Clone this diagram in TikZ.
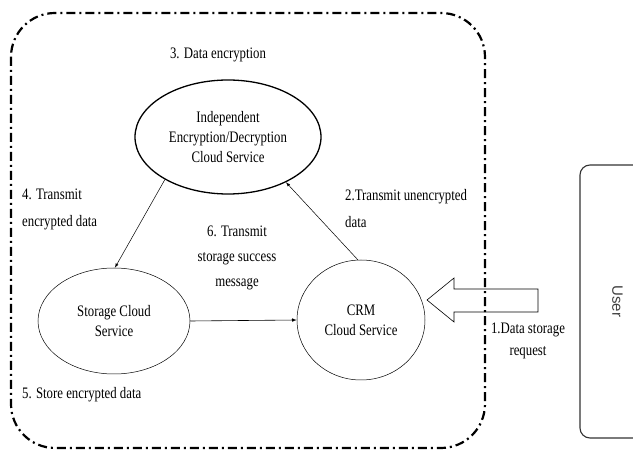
\documentclass[tikz,border=0pt]{standalone}
\usepackage{fontspec}
\setmainfont{Liberation Serif}[FakeStretch=0.8]
\newfontfamily\usrfont{Liberation Sans}
\usepackage{tikz}
\usetikzlibrary{shapes.geometric}

\begin{document}
\begin{tikzpicture}[x=1pt, y=-1pt,
  svc/.style={ellipse, draw, inner sep=0pt, align=center, font=\fontsize{16}{20}\selectfont},
  lbl/.style={align=left, anchor=west, inner sep=0pt, font=\fontsize{16}{27}\selectfont},
  frame/.style={line width=2.2pt, dash pattern=on 9pt off 4pt on 2pt off 4pt, rounded corners=44pt}]

\useasboundingbox (0,0) rectangle (633,454);

%% trusted zone
\draw[frame] (11,13) rectangle (485,448);

%% services
\path
(228,137) node[svc, line width=1.3pt, minimum width=186pt, minimum height=114pt](enc) {Independent\\Encryption/Decryption\\Cloud Service}
(114,321) node[svc, line width=0.5pt, minimum width=152pt, minimum height=106pt](store) {Storage Cloud\\Service}
(361,320) node[svc, line width=0.5pt, minimum width=128pt, minimum height=120pt](crm) {CRM\\Cloud Service};

%% user
\node[draw, gray!40!black, line width=1.1pt, rounded corners=10pt, rotate=-90, minimum width=273pt, minimum height=75pt,
  font=\usrfont\fontsize{15}{17}\selectfont, text=gray!50!black] (user) at (617.5,301.5) {User};

%% block arrow from user to crm
\draw[line width=0.6pt] (427,300) -- (454,278) -- (454,289) -- (538,289) -- (538,312) -- (454,312) -- (454,322) -- cycle;

%% flows
\draw[-latex, line width=0.5pt] (enc.214) -- (store.89);
\draw[-latex, line width=0.5pt] (crm.93) -- (enc.322);
\draw[-latex, line width=0.6pt] (store.east) -- (crm.west);

%% step labels
\node[lbl, anchor=center, align=center] (s3) at (218,55) {3. Data encryption};
\node[lbl] (s4) at (22,209) {4. Transmit\\encrypted data};
\node[lbl] (s2) at (345,209) {2.Transmit unencrypted\\data};
\node[lbl, anchor=center, align=center, font=\fontsize{16}{25}\selectfont] (s6) at (237,258) {6. Transmit\\storage success\\message};
\node[lbl, anchor=center, align=center, font=\fontsize{16}{22}\selectfont] (s1) at (528,341) {1.Data storage\\request};
\node[lbl] (s5) at (22,395) {5. Store encrypted data};

\end{tikzpicture}
\end{document}
